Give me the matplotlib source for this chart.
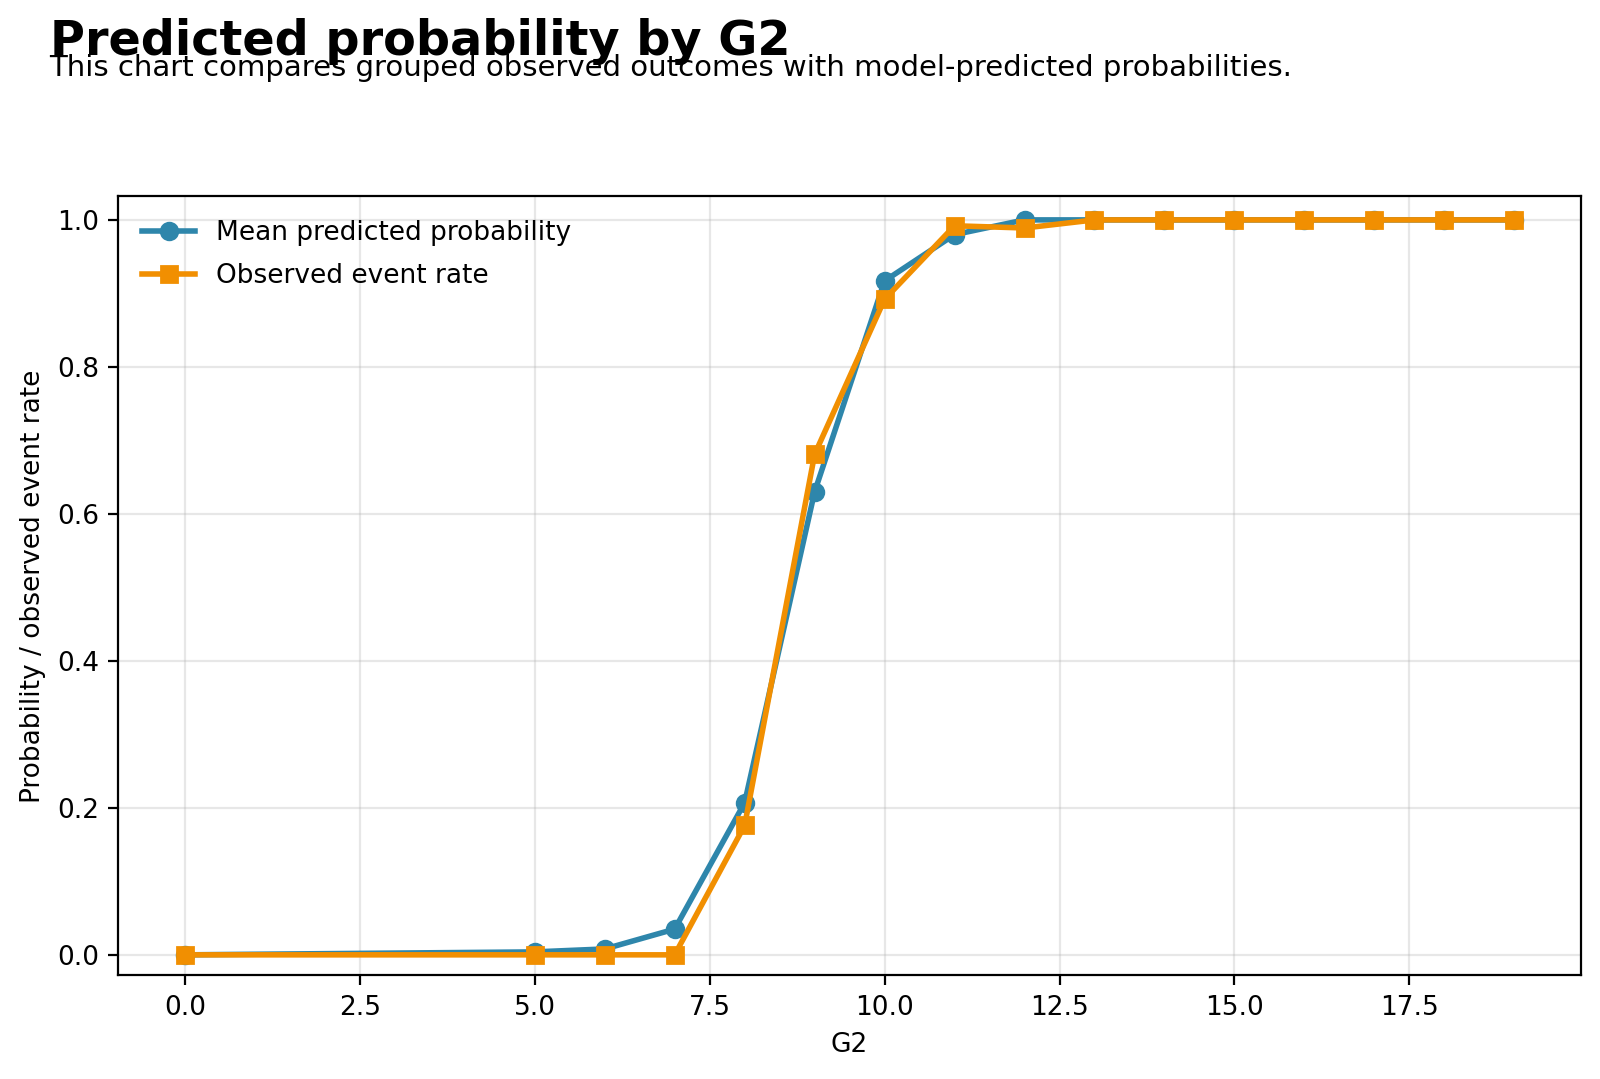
import numpy as np
import matplotlib.pyplot as plt

g2 = [0, 5, 6, 7, 8, 9, 10, 11, 12, 13, 14, 15, 16, 17, 18, 19]
pred = [0.0, 0.004, 0.008, 0.035, 0.207, 0.63, 0.917, 0.98, 1.0, 1.0, 1.0, 1.0, 1.0, 1.0, 1.0, 1.0]
obs = [0.0, 0.0, 0.0, 0.0, 0.176, 0.681, 0.892, 0.992, 0.989, 1.0, 1.0, 1.0, 1.0, 1.0, 1.0, 1.0]

plt.rcParams['font.size'] = 9.5

fig = plt.figure(figsize=(8, 5.395), dpi=200)
ax = fig.add_axes([0.074, 0.096, 0.914, 0.722])

ax.plot(g2, pred, marker='o', color='#2E86AB', lw=2, ms=6, label='Mean predicted probability')
ax.plot(g2, obs, marker='s', color='#F18F01', lw=2, ms=6, label='Observed event rate')

ax.set_ylim(-0.028, 1.032)
ax.set_xlabel('G2')
ax.set_ylabel('Probability / observed event rate')
ax.grid(True, alpha=0.3)
ax.legend(frameon=False, loc='upper left', labelspacing=0.65)

fig.text(0.031, 0.949, 'Predicted probability by G2', fontsize=17.2, fontweight='bold')
fig.text(0.031, 0.930, 'This chart compares grouped observed outcomes with model-predicted probabilities.', fontsize=10.5)

fig.savefig('out.png', dpi=200)
